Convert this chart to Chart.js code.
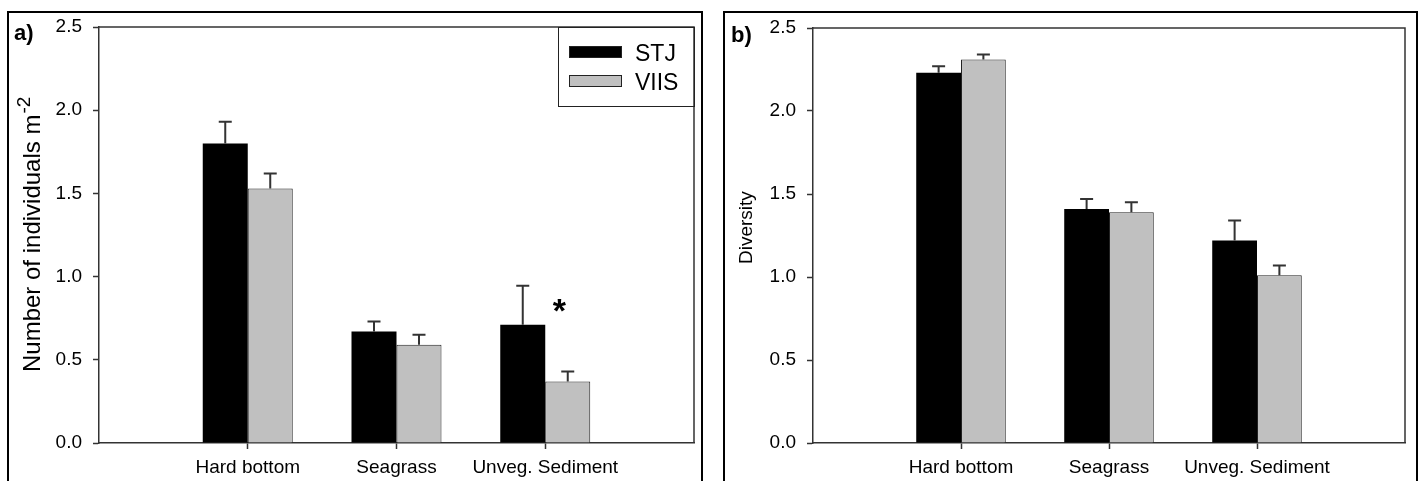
<!DOCTYPE html>
<html>
<head>
<meta charset="utf-8">
<script src="https://cdn.jsdelivr.net/npm/chart.js@4.4.1/dist/chart.umd.min.js"></script>
<style>
  body { margin: 0; background: #fff; width: 1421px; height: 481px; overflow: hidden; position: relative; }
  .frame { position: absolute; top: 11px; height: 490px; border: 2px solid #000; box-sizing: border-box; }
  canvas { position: absolute; top: 0; }
</style>
</head>
<body>
<div class="frame" style="left:7px;width:696px"></div>
<div class="frame" style="left:723px;width:695px"></div>
<canvas id="chartA" width="712" height="481" style="left:0"></canvas>
<canvas id="chartB" width="709" height="481" style="left:712px"></canvas>
<script>
// habitats on the x axis (empty slots pad both ends)
const habitats = ['Hard bottom', 'Seagrass', 'Unveg. Sediment'];
const sites = ['STJ', 'VIIS'];
const yTicks = [0, 0.5, 1.0, 1.5, 2.0, 2.5];

// a) density, individuals per m2 (mean and +SE)
const densitySTJ = [1.80, 0.67, 0.71];
const densitySTJse = [0.13, 0.06, 0.235];
const densityVIIS = [1.53, 0.59, 0.37];
const densityVIISse = [0.09, 0.06, 0.06];

// b) diversity (mean and +SE)
const diversitySTJ = [2.23, 1.41, 1.22];
const diversitySTJse = [0.04, 0.06, 0.12];
const diversityVIIS = [2.31, 1.39, 1.01];
const diversityVIISse = [0.03, 0.06, 0.06];

const FONT = '"Liberation Sans", Arial, sans-serif';
const pad = arr => [null, ...arr, null];

const panelPlugin = {
  id: 'panel',
  afterDatasetsDraw(chart, args, o) {
    const ctx = chart.ctx;
    const { left, top, right, bottom } = chart.chartArea;
    const x = chart.scales.x, y = chart.scales.y;
    ctx.save();

    // top + right edge of plot box
    ctx.strokeStyle = '#333';
    ctx.lineWidth = 1.5;
    ctx.beginPath();
    ctx.moveTo(left, top);
    ctx.lineTo(right, top);
    ctx.lineTo(right, bottom);
    ctx.stroke();

    // error bars (upper only)
    ctx.strokeStyle = '#333';
    ctx.lineWidth = 2;
    chart.data.datasets.forEach((ds, di) => {
      const meta = chart.getDatasetMeta(di);
      meta.data.forEach((bar, i) => {
        const v = ds.data[i];
        if (v == null) return;
        const yt = y.getPixelForValue(v + ds.se[i]);
        ctx.beginPath();
        ctx.moveTo(bar.x, bar.y);
        ctx.lineTo(bar.x, yt);
        ctx.moveTo(bar.x - 6.5, yt);
        ctx.lineTo(bar.x + 6.5, yt);
        ctx.stroke();
      });
    });

    // panel letter
    ctx.fillStyle = '#000';
    ctx.font = 'bold 22px ' + FONT;
    ctx.textAlign = 'left';
    ctx.textBaseline = 'alphabetic';
    ctx.fillText(o.letter, o.letterX, o.letterY);

    // y axis title (rotated)
    ctx.save();
    ctx.translate(o.titleX, o.titleY);
    ctx.rotate(-Math.PI / 2);
    ctx.font = o.titleSize + 'px ' + FONT;
    ctx.fillText(o.title, 0, 0);
    if (o.sup) {
      const w = ctx.measureText(o.title).width;
      ctx.font = '19px ' + FONT;
      ctx.fillText(o.sup, w + 1, -10);
    }
    ctx.restore();

    // legend
    if (o.legend) {
      ctx.strokeStyle = '#222';
      ctx.lineWidth = 1;
      ctx.strokeRect(right - 136 + 0.5, top + 0.5, 136, 79);
      ctx.font = '23px ' + FONT;
      chart.data.datasets.forEach((ds, di) => {
        const sy = top + 19 + di * 29;
        ctx.fillStyle = ds.backgroundColor;
        ctx.fillRect(right - 125, sy, 53, 12);
        ctx.strokeStyle = '#222';
        ctx.strokeRect(right - 125 + 0.5, sy + 0.5, 52, 11);
        ctx.fillStyle = '#000';
        ctx.fillText(ds.label, right - 59, sy + 15);
      });
    }

    // significance mark
    if (o.star) {
      ctx.font = 'bold 34px ' + FONT;
      ctx.textAlign = 'center';
      ctx.fillText('*', x.getPixelForValue(o.star.index) + 14, y.getPixelForValue(o.star.value));
    }
    ctx.restore();
  }
};

function makeChart(id, stj, stjSe, viis, viisSe, yWidth, padding, opts) {
  return new Chart(document.getElementById(id), {
    type: 'bar',
    data: {
      labels: pad(habitats),
      datasets: [
        { label: sites[0], data: pad(stj), se: pad(stjSe), backgroundColor: '#000', borderColor: '#000', borderWidth: 0 },
        { label: sites[1], data: pad(viis), se: pad(viisSe), backgroundColor: '#c0c0c0', borderColor: '#222', borderWidth: 1 }
      ]
    },
    options: {
      responsive: false,
      animation: false,
      events: [],
      layout: { padding: padding },
      datasets: { bar: { categoryPercentage: 0.605, barPercentage: 1 } },
      plugins: { legend: { display: false }, tooltip: { enabled: false }, panel: opts },
      scales: {
        x: {
          offset: false,
          afterBuildTicks: s => { s.ticks = s.ticks.filter(t => t.value >= 1 && t.value <= habitats.length); },
          afterFit: s => { s.height = 38; },
          grid: { offset: false, drawOnChartArea: false, tickLength: 6, tickColor: '#333', tickWidth: 1.5 },
          border: { color: '#333', width: 1.5 },
          ticks: { color: '#000', font: { family: FONT, size: 19 }, padding: 7, maxRotation: 0, autoSkip: false }
        },
        y: {
          min: 0, max: 2.5,
          afterBuildTicks: s => { s.ticks = yTicks.map(v => ({ value: v })); },
          afterFit: s => { s.width = yWidth; },
          grid: { drawOnChartArea: false, tickLength: 6, tickColor: '#333', tickWidth: 1.5 },
          border: { color: '#333', width: 1.5 },
          ticks: { color: '#000', font: { family: FONT, size: 19 }, padding: 11, callback: v => v.toFixed(1) }
        }
      }
    },
    plugins: [panelPlugin]
  });
}

makeChart('chartA', densitySTJ, densitySTJse, densityVIIS, densityVIISse, 99,
  { top: 27, right: 18, left: 0, bottom: 0 },
  { letter: 'a)', letterX: 14, letterY: 40, title: 'Number of individuals m', sup: '-2', titleSize: 24,
    titleX: 40, titleY: 372, legend: true, star: { index: 3, value: 0.73 } });

makeChart('chartB', diversitySTJ, diversitySTJse, diversityVIIS, diversityVIISse, 101,
  { top: 28, right: 16, left: 0, bottom: 0 },
  { letter: 'b)', letterX: 19, letterY: 42, title: 'Diversity', titleSize: 19,
    titleX: 40, titleY: 264, legend: false, star: null });
</script>
</body>
</html>
